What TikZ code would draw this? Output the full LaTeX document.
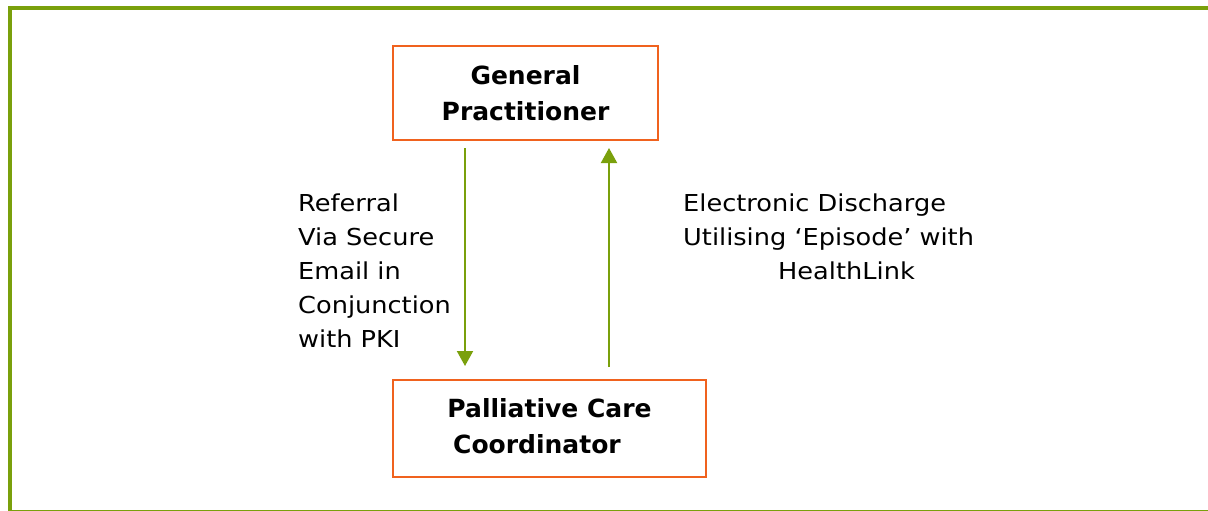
\documentclass[tikz,border=0pt]{standalone}
\usepackage{fontspec}
\setmainfont{DejaVu Sans}
\newfontfamily\notefont[FakeStretch=1.1]{DejaVu Sans}
\usetikzlibrary{arrows.meta}
\definecolor{framegreen}{RGB}{122,160,12}
\definecolor{boxorange}{RGB}{240,98,30}

\begin{document}
\begin{tikzpicture}[x=1pt, y=-1pt,
  role/.style={draw=boxorange, line width=2pt, inner sep=0pt, align=center,
    font=\fontsize{25}{36}\selectfont\bfseries},
  flow/.style={draw=framegreen, line width=2pt, -{Triangle[width=16pt,length=15pt]}},
  note/.style={inner sep=0pt, align=left, font=\notefont\fontsize{23.3}{34}\selectfont}]
  \useasboundingbox (0,0) rectangle (1208,511);
  \draw[framegreen, line width=4pt] (9.5,8) rectangle (1209.5,512);

  \node[role, minimum width=265pt, minimum height=94pt] (gp) at (525.5,93) {General\\Practitioner};
  \node[role, minimum width=313pt, minimum height=97pt, text depth=5pt] (pcc) at (549.5,428.5) {Palliative Care\\Coordinator\hspace*{25pt}};

  \coordinate (down) at (465,0);
  \coordinate (up) at (609,0);
  \draw[flow, shorten <=7pt, shorten >=13pt] (gp.south -| down) -- (pcc.north -| down);
  \draw[flow, shorten <=12pt, shorten >=7pt] (pcc.north -| up) -- (gp.south -| up);

  \node[note, anchor=north west] (referral) at (298,194) {Referral\\Via Secure\\Email in\\Conjunction\\with PKI};
  \node[note, anchor=north west] (discharge) at (683,194) {Electronic Discharge\\Utilising ‘Episode’ with\\\hspace*{95pt}HealthLink};
\end{tikzpicture}
\end{document}
